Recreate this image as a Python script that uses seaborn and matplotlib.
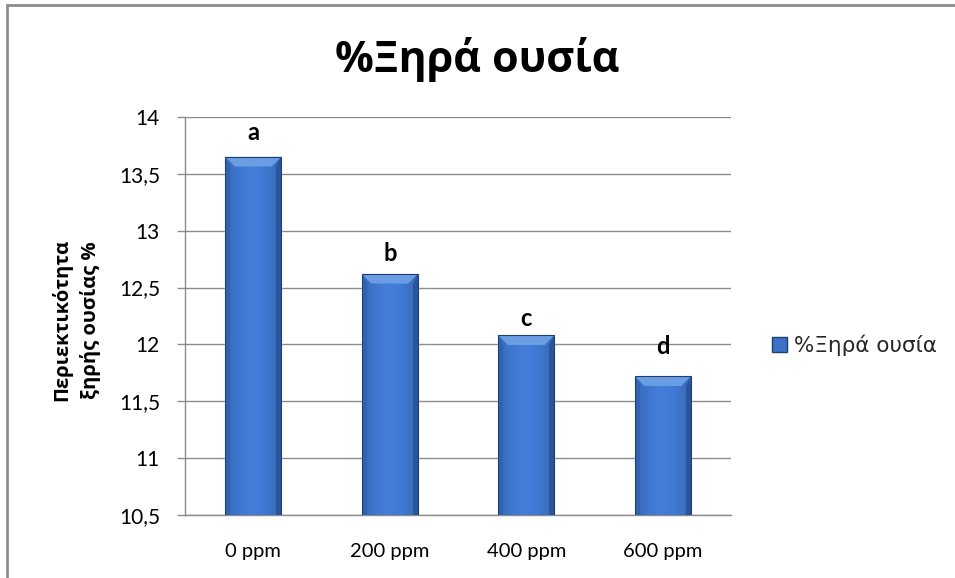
import matplotlib
matplotlib.use("Agg")
import matplotlib.pyplot as plt
import numpy as np
import pandas as pd
import seaborn as sns
from matplotlib.patches import Polygon, Rectangle

# Dry matter content per treatment
categories = ["0 ppm", "200 ppm", "400 ppm", "600 ppm"]
dry_matter = [13.65, 12.62, 12.08, 11.72]
group_letters = ["a", "b", "c", "d"]
series_name = "%Ξηρά ουσία"
y_ticks = [10.5, 11, 11.5, 12, 12.5, 13, 13.5, 14]
y_tick_labels = ["10,5", "11", "11,5", "12", "12,5", "13", "13,5", "14"]

sns.set_theme(style="white")
plt.rcParams["font.family"] = ["Lato", "Open Sans", "DejaVu Sans"]

df = pd.DataFrame({"treatment": categories, "value": dry_matter})

fig = plt.figure(figsize=(9.55, 5.78), dpi=100)
ax = fig.add_axes([185 / 955, 1 - 515 / 578, 546 / 955, 398 / 578])

y_min, y_max = 10.5, 14
bar_color = "#3c72c6"
sns.barplot(data=df, x="treatment", y="value", color=bar_color, width=0.41,
            saturation=1, ax=ax, label=series_name, zorder=3)
if ax.get_legend() is not None:
    ax.get_legend().remove()

ax.set_ylim(y_min, y_max)
ax.set_yticks(y_ticks)
ax.set_yticklabels(y_tick_labels)
ax.set_xlim(-0.5, len(categories) - 0.5)
ax.set_xlabel("")
ax.set_ylabel("")

# Gridlines and axes styling
ax.grid(axis="y", color="#8c8c8c", linewidth=1.0, zorder=0)
ax.set_axisbelow(True)
for side in ["top", "right"]:
    ax.spines[side].set_visible(False)
for side in ["left", "bottom"]:
    ax.spines[side].set_color("#8c8c8c")
    ax.spines[side].set_linewidth(1.0)
ax.tick_params(axis="y", which="major", left=True, length=6, width=1,
               color="#8c8c8c", pad=12, labelsize=15, labelcolor="black")
ax.tick_params(axis="x", bottom=False, pad=14, labelsize=14.5, labelcolor="black")

# Bevelled, shaded bars
n = 64
grad = np.linspace(0, 1, n)
shade = np.sin(np.pi * (0.1 + 0.8 * grad))
base = np.array(matplotlib.colors.to_rgb(bar_color))
img = np.zeros((1, n, 3))
for i, s in enumerate(shade):
    img[0, i] = np.clip(base * (0.82 + 0.28 * s), 0, 1)

bev_y = 0.085
bev_x = 0.07
for patch in list(ax.patches):
    x0 = patch.get_x()
    w, h = patch.get_width(), patch.get_height()
    top = patch.get_y() + h
    y0 = y_min
    patch.set_y(y0)
    patch.set_height(top - y0)
    patch.set_clip_on(True)
    im = ax.imshow(img, extent=(x0, x0 + w, y0, top), aspect="auto",
                   zorder=3.5, interpolation="bilinear")
    im.set_clip_path(patch)
    # side bevels
    ax.add_patch(Polygon([(x0 + w, top), (x0 + w, y0), (x0 + w - bev_x * 0.5, y0),
                          (x0 + w - bev_x * 0.5, top - bev_y)], closed=True,
                         facecolor="#2a559b", edgecolor="none", zorder=4))
    ax.add_patch(Polygon([(x0, top), (x0, y0), (x0 + bev_x * 0.5, y0),
                          (x0 + bev_x * 0.5, top - bev_y)], closed=True,
                         facecolor="#3263b0", edgecolor="none", zorder=4))
    # top bevel
    ax.add_patch(Polygon([(x0, top), (x0 + w, top), (x0 + w - bev_x, top - bev_y),
                          (x0 + bev_x, top - bev_y)], closed=True,
                         facecolor="#6a9de4", edgecolor="none", zorder=4.2))
    ax.add_patch(Rectangle((x0, y0), w, top - y0, facecolor="none",
                           edgecolor="#1f3f73", linewidth=0.8, zorder=4.5))
ax.set_xlim(-0.5, len(categories) - 0.5)
ax.set_ylim(y_min, y_max)

# Significance letters above the bars
letter_offsets = [12, 9, 7, 16]
for i, (val, letter) in enumerate(zip(dry_matter, group_letters)):
    ax.annotate(letter, xy=(i, val), xytext=(0, letter_offsets[i]),
                textcoords="offset points", ha="center", va="baseline",
                fontsize=17, fontweight="bold", color="black", zorder=6)

# Title and axis label
fig.text(0.5, 1 - 60 / 578, series_name, ha="center", va="center",
         fontsize=31, fontweight="bold", color="black",
         family=["Open Sans", "DejaVu Sans"])
fig.text(76 / 955, 1 - 320 / 578, "Περιεκτικότητα\nξηρής ουσίας %",
         rotation=90, ha="center", va="center", multialignment="center",
         fontsize=14.5, fontweight="bold", color="black", linespacing=1.45,
         family=["Open Sans", "DejaVu Sans"])

# Legend
handles, labels = ax.get_legend_handles_labels()
leg = fig.legend(handles[:1], [series_name], loc="center left",
                 bbox_to_anchor=(772 / 955, 1 - 345 / 578), frameon=False,
                 handlelength=0.7, handleheight=0.7, handletextpad=0.3,
                 borderpad=0, borderaxespad=0,
                 prop={"family": ["DejaVu Sans"], "size": 15.5})
for h in leg.legend_handles:
    h.set_edgecolor("#1f3f73")

# Chart area border
fig.patches.append(Rectangle((7 / 955, -0.1), 1.2, 1 - 5 / 578 + 0.1,
                             transform=fig.transFigure, facecolor="none",
                             edgecolor="#8c8c8c", linewidth=2, zorder=0))

fig.savefig("out.png", dpi=100)
